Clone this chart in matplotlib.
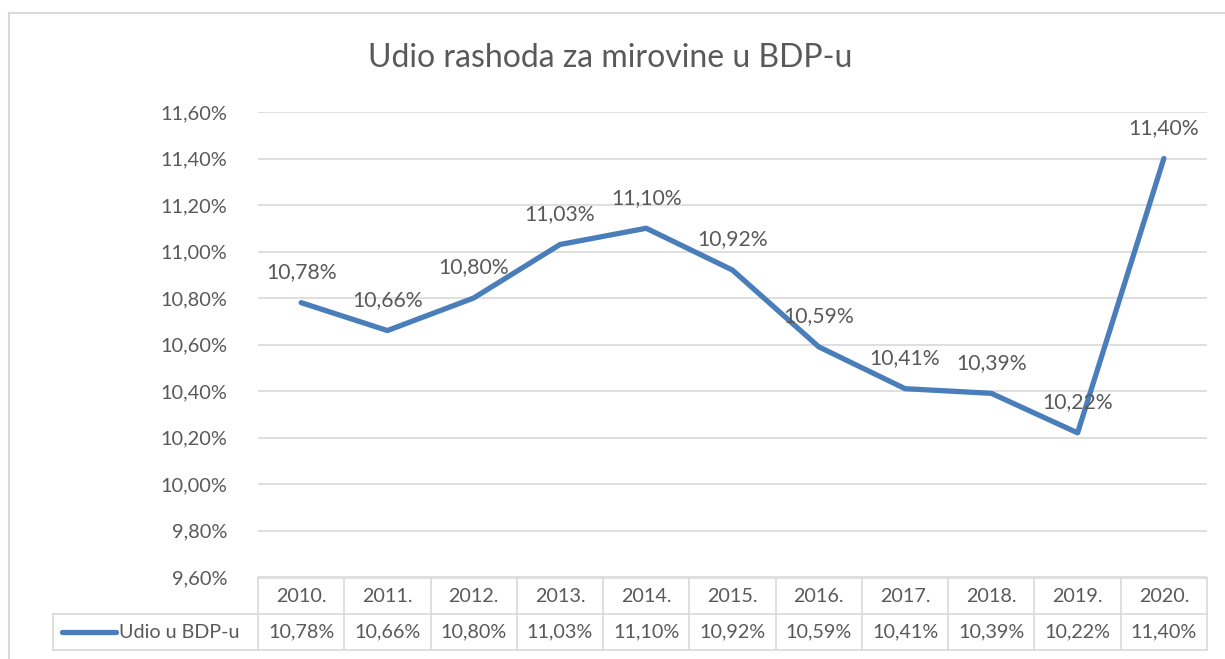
import matplotlib
matplotlib.use("Agg")
import matplotlib.pyplot as plt
from matplotlib.lines import Line2D
from matplotlib.transforms import blended_transform_factory

W, H = 1225, 659
years = ["2010.", "2011.", "2012.", "2013.", "2014.", "2015.",
         "2016.", "2017.", "2018.", "2019.", "2020."]
values = [10.78, 10.66, 10.80, 11.03, 11.10, 10.92, 10.59, 10.41, 10.39, 10.22, 11.40]
yticks = [9.6, 9.8, 10.0, 10.2, 10.4, 10.6, 10.8, 11.0, 11.2, 11.4, 11.6]
series_name = "Udio u BDP-u"
title = "Udio rashoda za mirovine u BDP-u"

BLUE = "#4a7ebb"
GRID = "#d9d9d9"
TXT = "#595959"
FONT = "Lato"


def pct(v):
    return f"{v:.2f}%".replace(".", ",")


def fx(px):
    return px / W


def fy(py):
    return 1 - py / H


fig = plt.figure(figsize=(W / 100, H / 100), dpi=100)
plt.rcParams["font.family"] = [FONT, "DejaVu Sans"]

# chart border (only left and top are visible in the crop)
fig.add_artist(Line2D([fx(9), fx(9)], [fy(13), 0], color=GRID, lw=1.5))
fig.add_artist(Line2D([fx(9), 1], [fy(13), fy(13)], color=GRID, lw=1.5))

left, right, top, bottom = 258, 1207, 112, 577
ax = fig.add_axes([fx(left), fy(bottom), fx(right - left), fy(top) - fy(bottom)])
x = list(range(len(years)))
ax.plot(x, values, color=BLUE, lw=3.8, solid_capstyle="round", zorder=3)
for xi, v in zip(x, values):
    ax.annotate(pct(v), (xi, v), xytext=(0, 22), textcoords="offset points",
                ha="center", va="center", fontsize=15.2, color=TXT)

ax.set_xlim(-0.5, len(years) - 0.5)
ax.set_ylim(yticks[0], yticks[-1])
ax.set_yticks(yticks, [pct(t) for t in yticks])
ax.set_xticks([])
ax.tick_params(axis="y", length=0, pad=22, labelsize=14.4, labelcolor=TXT)
ax.grid(axis="y", color=GRID, lw=1.2)
for s in ax.spines.values():
    s.set_visible(False)

fig.text(fx(610), fy(58), title, ha="center", va="center", fontsize=23, color=TXT)

# data table below the axes
tr = blended_transform_factory(ax.transData, fig.transFigure)
r0, r1, r2 = fy(578), fy(614), fy(650)
n = len(years)
kw = dict(color=GRID, lw=1.2, clip_on=False)
fig.add_artist(Line2D([-0.5, n - 0.5], [r0, r0], transform=tr, **kw))
for i in range(n + 1):
    fig.add_artist(Line2D([i - 0.5, i - 0.5], [r0, r2], transform=tr, **kw))
fig.add_artist(Line2D([fx(53), fx(right)], [r1, r1], **kw))
fig.add_artist(Line2D([fx(53), fx(right)], [r2, r2], **kw))
fig.add_artist(Line2D([fx(53), fx(53)], [r1, r2], **kw))
for i, (yr, v) in enumerate(zip(years, values)):
    fig.text(i, (r0 + r1) / 2, yr, transform=tr, ha="center", va="center",
             fontsize=14.2, color=TXT)
    fig.text(i, (r1 + r2) / 2, pct(v), transform=tr, ha="center", va="center",
             fontsize=14.2, color=TXT)
fig.add_artist(Line2D([fx(62), fx(116)], [(r1 + r2) / 2] * 2, color=BLUE,
                      lw=3.8, solid_capstyle="round"))
fig.text(fx(119), (r1 + r2) / 2, series_name, ha="left", va="center",
         fontsize=14.2, color=TXT)

fig.savefig("out.png", dpi=100)
